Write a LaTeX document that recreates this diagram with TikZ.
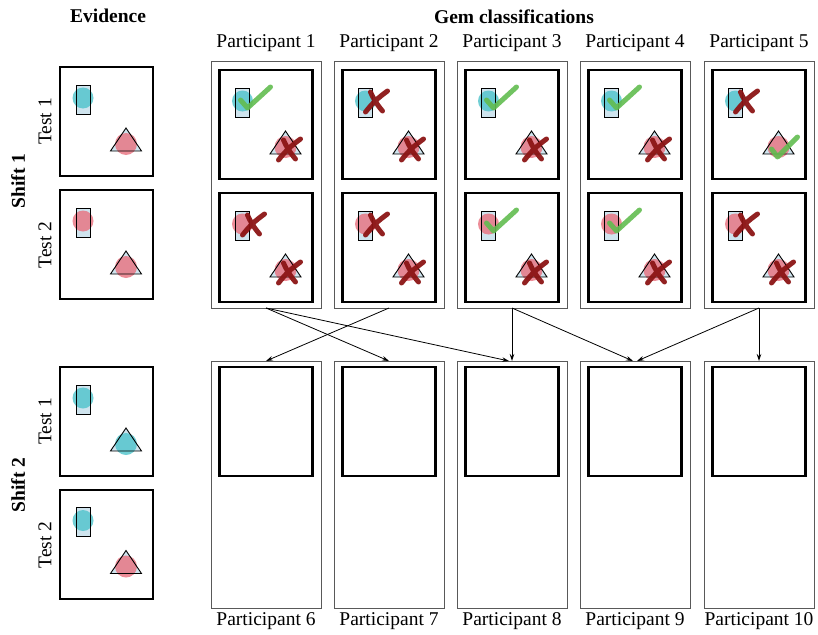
\documentclass[tikz,border=0pt]{standalone}
\usepackage{fontspec}
\setmainfont{Liberation Serif}
\usetikzlibrary{arrows.meta}

\definecolor{gemcyan}{HTML}{4EC3CB}
\definecolor{gempink}{HTML}{E8707E}
\definecolor{gemblue}{HTML}{CFE4EE}
\definecolor{okgreen}{HTML}{62BC50}
\definecolor{nored}{HTML}{8C1515}

\newcommand{\labelsize}{\fontsize{19.5}{23}\selectfont}
% bar and triangle of one panel, #1 = colour at the bar, #2 = colour at the triangle
\newcommand{\gems}[2]{%
  \fill[gemblue] (16,18) rectangle (30,47);
  \fill[#1,opacity=.8] (23,31) circle (10.5pt);
  \draw[gemline] (16,18) rectangle (30,47);
  \fill[gemblue] (66,61) -- (50.5,84) -- (81.5,84) -- cycle;
  \fill[#2,opacity=.8] (66,77) circle (11pt);
  \draw[gemline] (66,61) -- (50.5,84) -- (81.5,84) -- cycle;}
% ticks and crosses
\newcommand{\okbar}{\draw[okmark] (21,30) -- (28,38) -- (51,17);}
\newcommand{\oktri}{\draw[okmark] (59,79) -- (65,87) -- (85,67);}
\newcommand{\nobar}{\draw[nomark] (23,42) to[bend left=8] (45,21) (28,22) to[bend right=8] (40,41);}
\newcommand{\notri}{\draw[nomark] (59,90) to[bend left=8] (81,69) (64,70) to[bend right=8] (76,89);}

\begin{document}
\begin{tikzpicture}[x=1pt,y=-1pt,
    lbl/.style={font=\labelsize},
    title/.style={font=\labelsize\bfseries},
    evbox/.style={draw,line width=2pt,minimum width=93pt,minimum height=109pt,inner sep=0pt,outer sep=0pt},
    panel/.style={draw,line width=2.4pt,minimum width=93pt,minimum height=109pt,inner sep=0pt,outer sep=0pt},
    partbox/.style={draw=black!65,line width=0.9pt,minimum width=110pt,minimum height=247pt,inner sep=0pt,outer sep=0pt},
    gemline/.style={draw=black,line width=0.9pt},
    okmark/.style={draw=okgreen,line width=5pt,line cap=round,line join=round,opacity=.9},
    nomark/.style={draw=nored,line width=5pt,line cap=round,opacity=.95},
    flow/.style={-{Stealth[length=7pt,width=4.5pt]},line width=0.8pt}]
\useasboundingbox (0,0) rectangle (818,634);
% titles
\node[title] (evtitle) at (108,16) {Evidence};
\node[title] (gemtitle) at (514,17) {Gem classifications};
% evidence
\node[title,rotate=90] (shift1) at (18,181) {Shift 1};
\node[title,rotate=90] (shift2) at (18,485) {Shift 2};
\node[lbl,rotate=90] (ev1alabel) at (45,121.5) {Test 1};
\node[lbl,rotate=90] (ev1blabel) at (45,245) {Test 2};
\node[lbl,rotate=90] (ev2alabel) at (45,421.5) {Test 1};
\node[lbl,rotate=90] (ev2blabel) at (45,545) {Test 2};
\node[evbox] (ev1a) at (106.5,121.5) {};
\node[evbox] (ev1b) at (106.5,244.5) {};
\node[evbox] (ev2a) at (106.5,421.5) {};
\node[evbox] (ev2b) at (106.5,544) {};
\begin{scope}[shift={(ev1a.north west)}] \gems{gemcyan}{gempink} \end{scope}
\begin{scope}[shift={(ev1b.north west)}] \gems{gempink}{gempink} \end{scope}
\begin{scope}[shift={(ev2a.north west)}] \gems{gemcyan}{gemcyan} \end{scope}
\begin{scope}[shift={(ev2b.north west)}] \gems{gemcyan}{gempink} \end{scope}
% participants of shift 1
\node[partbox] (part1) at (266,184.5) {};
\node[partbox] (part2) at (389,184.5) {};
\node[partbox] (part3) at (512,184.5) {};
\node[partbox] (part4) at (635,184.5) {};
\node[partbox] (part5) at (759,184.5) {};
\node[lbl] (name1) at (266,43) {Participant 1};
\node[lbl] (name2) at (389,43) {Participant 2};
\node[lbl] (name3) at (512,43) {Participant 3};
\node[lbl] (name4) at (635,43) {Participant 4};
\node[lbl] (name5) at (759,43) {Participant 5};
\node[panel] (pan1a) at (266,124.5) {};
\node[panel] (pan1b) at (266,247.5) {};
\node[panel] (pan2a) at (389,124.5) {};
\node[panel] (pan2b) at (389,247.5) {};
\node[panel] (pan3a) at (512,124.5) {};
\node[panel] (pan3b) at (512,247.5) {};
\node[panel] (pan4a) at (635,124.5) {};
\node[panel] (pan4b) at (635,247.5) {};
\node[panel] (pan5a) at (759,124.5) {};
\node[panel] (pan5b) at (759,247.5) {};
\begin{scope}[shift={(pan1a.north west)}] \gems{gemcyan}{gempink} \okbar \notri \end{scope}
\begin{scope}[shift={(pan1b.north west)}] \gems{gempink}{gempink} \nobar \notri \end{scope}
\begin{scope}[shift={(pan2a.north west)}] \gems{gemcyan}{gempink} \nobar \notri \end{scope}
\begin{scope}[shift={(pan2b.north west)}] \gems{gempink}{gempink} \nobar \notri \end{scope}
\begin{scope}[shift={(pan3a.north west)}] \gems{gemcyan}{gempink} \okbar \notri \end{scope}
\begin{scope}[shift={(pan3b.north west)}] \gems{gempink}{gempink} \okbar \notri \end{scope}
\begin{scope}[shift={(pan4a.north west)}] \gems{gemcyan}{gempink} \okbar \notri \end{scope}
\begin{scope}[shift={(pan4b.north west)}] \gems{gempink}{gempink} \okbar \notri \end{scope}
\begin{scope}[shift={(pan5a.north west)}] \gems{gemcyan}{gempink} \nobar \oktri \end{scope}
\begin{scope}[shift={(pan5b.north west)}] \gems{gempink}{gempink} \nobar \notri \end{scope}
% participants of shift 2
\node[partbox] (part6) at (266,484.5) {};
\node[partbox] (part7) at (389,484.5) {};
\node[partbox] (part8) at (512,484.5) {};
\node[partbox] (part9) at (635,484.5) {};
\node[partbox] (part10) at (759,484.5) {};
\node[panel] (pan6) at (266,421.5) {};
\node[panel] (pan7) at (389,421.5) {};
\node[panel] (pan8) at (512,421.5) {};
\node[panel] (pan9) at (635,421.5) {};
\node[panel] (pan10) at (759,421.5) {};
\node[lbl] (name6) at (266,621) {Participant 6};
\node[lbl] (name7) at (389,621) {Participant 7};
\node[lbl] (name8) at (512,621) {Participant 8};
\node[lbl] (name9) at (635,621) {Participant 9};
\node[lbl] (name10) at (759,621) {Participant 10};
% who passes on to whom
\draw[flow] (part1.south) -- (part7.north);
\draw[flow] (part1.south) -- ([xshift=-3pt]part8.north);
\draw[flow] (part2.south) -- (part6.north);
\draw[flow] (part3.south) -- (part8.north);
\draw[flow] (part3.south) -- ([xshift=-2pt]part9.north);
\draw[flow] (part5.south) -- ([xshift=2pt]part9.north);
\draw[flow] (part5.south) -- (part10.north);
\end{tikzpicture}
\end{document}
